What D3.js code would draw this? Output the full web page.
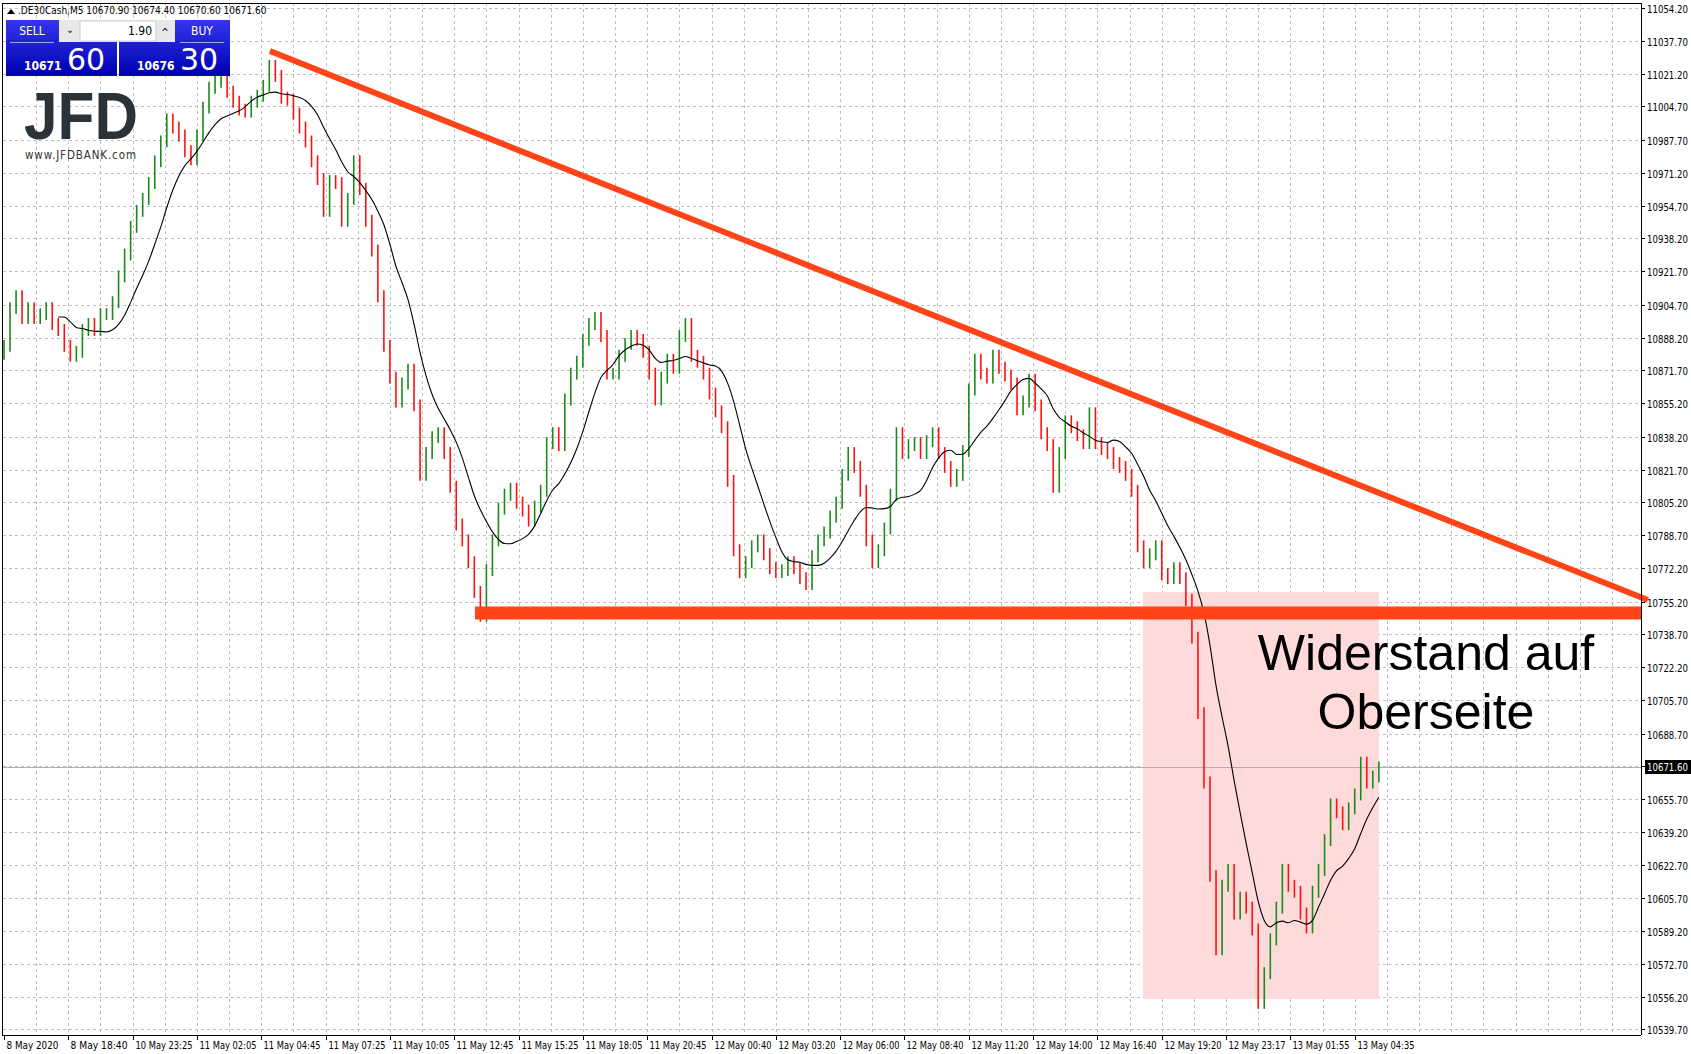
<!DOCTYPE html>
<html><head><meta charset="utf-8">
<script src="https://cdn.jsdelivr.net/npm/d3@7"></script>
<style>body{margin:0;background:#fff}svg{display:block}</style>
</head><body>
<svg id="c" width="1691" height="1054"></svg>
<script>
const closes = [10884,10903,10909,10898,10903,10898,10900,10903,10895,10892,10884,10879,10881,10892,10895,10892,10900,10900,10906,10919,
10930,10944,10952,10958,10966,10977,10987,10998,10994,10990,10982,10978,10990,11004,11014,11017,11017,11012,11007,11003,
11002,11007,11010,11015,11025,11020,11009,11008,11001,10994,10987,10977,10968,10952,10967,10966,10947,10958,10977,10963,
10947,10932,10909,10884,10868,10856,10865,10872,10854,10819,10830,10838,10840,10830,10813,10794,10786,10775,10760,10748,
10771,10786,10802,10809,10812,10805,10801,10796,10803,10811,10835,10840,10834,10857,10870,10876,10887,10895,10898,10889,
10870,10870,10879,10885,10889,10887,10881,10870,10857,10868,10877,10873,10889,10895,10879,10876,10870,10860,10851,10843,
10816,10781,10770,10775,10783,10786,10779,10772,10770,10771,10775,10772,10767,10764,10778,10786,10790,10798,10805,10819,
10830,10823,10811,10786,10775,10781,10792,10809,10840,10830,10834,10835,10830,10836,10840,10830,10823,10816,10819,10831,
10862,10877,10870,10868,10879,10873,10869,10865,10852,10856,10867,10854,10840,10834,10813,10830,10846,10843,10839,10835,
10850,10835,10832,10830,10825,10823,10819,10811,10783,10775,10779,10783,10769,10767,10772,10767,10756,10737,10699,10664,
10617,10580,10612,10620,10598,10606,10601,10590,10553,10568,10585,10601,10620,10612,10609,10598,10591,10609,10620,10635,
10653,10649,10643,10651,10658,10674,10664,10667,10671.6];
const priceTicks = [11054.2,11037.7,11021.2,11004.7,10987.7,10971.2,10954.7,10938.2,10921.7,10904.7,10888.2,10871.7,10855.2,10838.2,10821.7,10805.2,10788.7,10772.2,10755.2,10738.7,10722.2,10705.7,10688.7,10672.2,10655.7,10639.2,10622.7,10605.7,10589.2,10572.7,10556.2,10539.7];
const timeLabels = ["8 May 2020","8 May 18:40","10 May 23:25","11 May 02:05","11 May 04:45","11 May 07:25","11 May 10:05","11 May 12:45","11 May 15:25","11 May 18:05","11 May 20:45","12 May 00:40","12 May 03:20","12 May 06:00","12 May 08:40","12 May 11:20","12 May 14:00","12 May 16:40","12 May 19:20","12 May 23:17","13 May 01:55","13 May 04:35"];
const firstOpen = 10880;
const lastPrice = 10671.6;
const trendTop = [[44.1,11032.5],[272.6,10756]];
const support = [[78.1,10749.4],[271.6,10749.4]];
const zone = {i0:188.9,i1:228.0,p0:10760,p1:10555};

const svg = d3.select("#c");
const F = "'DejaVu Sans Condensed','DejaVu Sans',sans-serif";
const x = d3.scaleLinear().domain([0,228]).range([4,4+228*6.03]);
const y = d3.scaleLinear().domain([10539.7,11054.2]).range([1029.3,8]);
const axisX = 1641, bottom = 1035;

const g = svg.append("g");
priceTicks.forEach(p=>g.append("line").attr("x1",3).attr("x2",axisX).attr("y1",Math.round(y(p))+.5).attr("y2",Math.round(y(p))+.5)
  .attr("stroke","#c0c0c0").attr("stroke-dasharray","3,3"));
for(let k=1;k<80;k++){const gx=Math.round(x(k*16/3))+.5; if(gx>=axisX) break;
  g.append("line").attr("x1",gx).attr("x2",gx).attr("y1",3).attr("y2",bottom).attr("stroke","#c0c0c0").attr("stroke-dasharray","3,3");}

svg.append("rect").attr("x",x(zone.i0)).attr("width",x(zone.i1)-x(zone.i0)).attr("y",y(zone.p0)).attr("height",y(zone.p1)-y(zone.p0)).attr("fill","#ffdada");

svg.append("line").attr("x1",3).attr("x2",axisX).attr("y1",Math.round(y(lastPrice))+.5).attr("y2",Math.round(y(lastPrice))+.5).attr("stroke","#b0b0b0");

const bars = closes.map((c,i)=>{const o=i?closes[i-1]:firstOpen;return {i,o,c,h:Math.max(o,c)+3,l:Math.min(o,c)-3};});
svg.append("g").selectAll("line").data(bars).join("line")
  .attr("x1",d=>x(d.i)).attr("x2",d=>x(d.i)).attr("y1",d=>y(d.h)).attr("y2",d=>y(d.l))
  .attr("stroke",d=>d.c>=d.o?"#1a8a1a":"#ff1010").attr("stroke-width",1.6);

const per=10; const ma=[];
closes.forEach((c,i)=>{if(i>=per-1){ma.push([i,d3.mean(closes.slice(i-per+1,i+1))]);}});
svg.append("path").attr("d",d3.line().x(d=>x(d[0])).y(d=>y(d[1])).curve(d3.curveMonotoneX)(ma)).attr("fill","none").attr("stroke","#000").attr("stroke-width",1.1);

svg.append("line").attr("x1",x(trendTop[0][0])).attr("y1",y(trendTop[0][1])).attr("x2",x(trendTop[1][0])).attr("y2",y(trendTop[1][1]))
  .attr("stroke","#ff4418").attr("stroke-width",6);
svg.append("line").attr("x1",x(support[0][0])).attr("y1",y(support[0][1])).attr("x2",x(support[1][0])).attr("y2",y(support[1][1]))
  .attr("stroke","#ff4418").attr("stroke-width",13);

const tx=svg.append("text").attr("text-anchor","middle").attr("font-family","'Liberation Sans',Arial,sans-serif").attr("font-size",50).attr("fill","#000");
tx.append("tspan").attr("x",1426).attr("y",670).text("Widerstand auf");
tx.append("tspan").attr("x",1426).attr("y",729).text("Oberseite");

svg.append("line").attr("x1",2.5).attr("x2",2.5).attr("y1",3).attr("y2",bottom).attr("stroke","#000");
svg.append("line").attr("x1",2).attr("x2",axisX).attr("y1",3.5).attr("y2",3.5).attr("stroke","#000");
svg.append("line").attr("x1",axisX+.5).attr("x2",axisX+.5).attr("y1",3).attr("y2",bottom).attr("stroke","#000");
svg.append("line").attr("x1",2).attr("x2",axisX).attr("y1",bottom+.5).attr("y2",bottom+.5).attr("stroke","#000");
const ya=svg.append("g");
priceTicks.forEach(p=>{const yy=Math.round(y(p))+.5;
  ya.append("line").attr("x1",axisX).attr("x2",axisX+4).attr("y1",yy).attr("y2",yy).attr("stroke","#000");
  ya.append("text").attr("x",axisX+6).attr("y",yy+4).attr("font-family",F).attr("font-size",10).attr("textLength",41).attr("lengthAdjust","spacingAndGlyphs").attr("fill","#000").text(p.toFixed(2));});
const ly=Math.round(y(lastPrice));
ya.append("rect").attr("x",axisX+4).attr("y",ly-7).attr("width",46).attr("height",14).attr("fill","#000");
ya.append("text").attr("x",axisX+6).attr("y",ly+4).attr("font-family",F).attr("font-size",10).attr("textLength",41).attr("lengthAdjust","spacingAndGlyphs").attr("fill","#fff").text(lastPrice.toFixed(2));
timeLabels.forEach((t,k)=>{const tx=Math.round(x(k*32/3))+.5;
  svg.append("line").attr("x1",tx).attr("x2",tx).attr("y1",bottom).attr("y2",bottom+5).attr("stroke","#000");
  svg.append("text").attr("x",tx+2).attr("y",1049).attr("font-family",F).attr("font-size",10).attr("textLength",k==0?52:57).attr("lengthAdjust","spacingAndGlyphs").attr("fill","#000").text(t);});

svg.append("path").attr("d","M7,14 L11,9 L15,14 Z").attr("fill","#000");
svg.append("text").attr("x",18).attr("y",14).attr("font-family",F).attr("font-size",10).text(".DE30Cash,M5  10670.90 10674.40 10670.60 10671.60");

const defs=svg.append("defs");
const gr=defs.append("linearGradient").attr("id","bl").attr("x1",0).attr("y1",0).attr("x2",0).attr("y2",1);
gr.append("stop").attr("offset",0).attr("stop-color","#3535f0");gr.append("stop").attr("offset",1).attr("stop-color","#0000b0");
function box(bx,lab,lx,big,small){
  svg.append("rect").attr("x",bx).attr("y",20).attr("width",111).attr("height",56).attr("fill","url(#bl)");
  svg.append("text").attr("x",bx+lx).attr("y",35).attr("text-anchor","middle").attr("font-family",F).attr("font-size",12).attr("fill","#fff").text(lab);
  svg.append("line").attr("x1",bx+lx-22).attr("x2",bx+lx+22).attr("y1",42.5).attr("y2",42.5).attr("stroke","#9fa8ff");
  svg.append("text").attr("x",bx+18).attr("y",70).attr("font-family",F).attr("font-size",12).attr("font-weight","bold").attr("fill","#fff").text(small);
  svg.append("text").attr("x",bx+61).attr("y",70).attr("font-family","'DejaVu Sans',sans-serif").attr("font-size",30).attr("fill","#fff").text(big);
}
box(6,"SELL",26,"60","10671");
box(119,"BUY",83,"30","10676");
svg.append("rect").attr("x",59).attr("y",20).attr("width",116).attr("height",22).attr("fill","#e8e8e8");
svg.append("rect").attr("x",80).attr("y",21).attr("width",76).attr("height",20).attr("fill","#fff").attr("stroke","#ccc");
svg.append("text").attr("x",70).attr("y",33).attr("text-anchor","middle").attr("font-size",10).attr("font-family",F).text("⌄");
svg.append("text").attr("x",165).attr("y",36).attr("text-anchor","middle").attr("font-size",10).attr("font-family",F).text("^");
svg.append("text").attr("x",152).attr("y",35).attr("text-anchor","end").attr("font-size",12).attr("font-family",F).text("1.90");

svg.append("text").attr("x",24).attr("y",139).attr("font-family","'Liberation Sans',Arial,sans-serif").attr("font-weight","bold").attr("font-size",66).attr("textLength",114).attr("lengthAdjust","spacingAndGlyphs").attr("fill","#2b3238").text("JFD");
svg.append("text").attr("x",25).attr("y",159).attr("font-family",F).attr("font-size",11.5).attr("textLength",111).attr("fill","#333").text("www.JFDBANK.com");
</script>
</body></html>
